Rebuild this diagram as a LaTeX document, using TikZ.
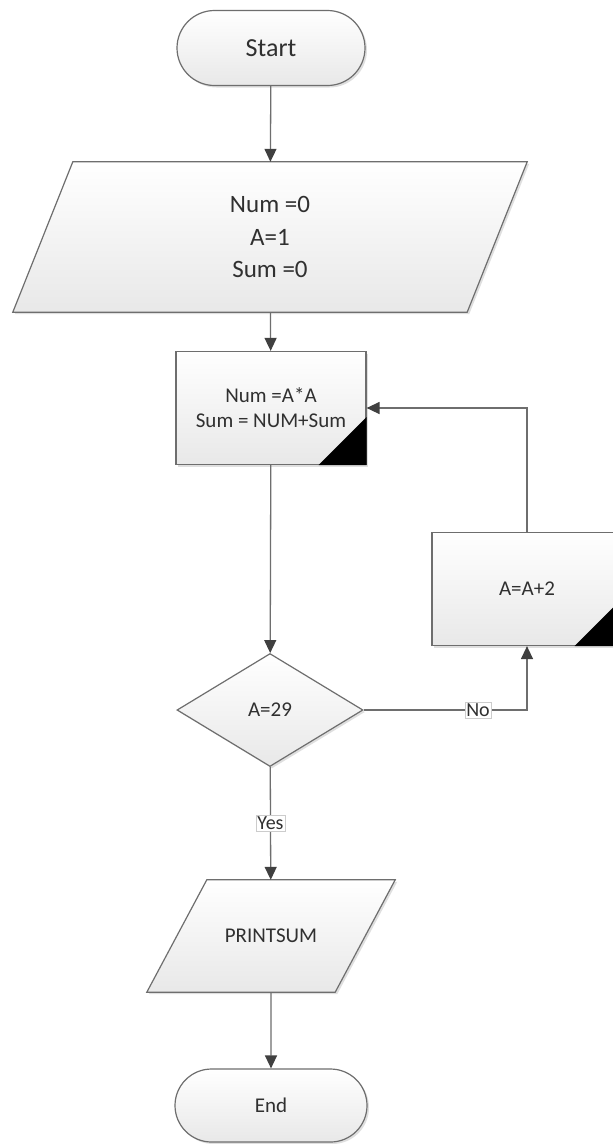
\documentclass[tikz,border=0pt]{standalone}
\usepackage{fontspec}
\setmainfont{Carlito}
\usetikzlibrary{shapes.geometric,shapes.misc,arrows.meta,shadows,calc,backgrounds}
\definecolor{edge}{HTML}{6E6E6E}
\definecolor{tipc}{HTML}{404040}
\definecolor{txt}{HTML}{303030}
\begin{document}
\begin{tikzpicture}[x=1pt,y=-1pt,
  look/.style={draw=edge, line width=1.2pt, top color=white, bottom color=black!9,
    drop shadow={shadow xshift=2pt, shadow yshift=-2pt, opacity=0.25}},
  base/.style={look, text=txt, align=center, inner sep=0pt, font=\fontsize{21}{25}\selectfont},
  terminal/.style={base, rounded rectangle, minimum width=188pt, minimum height=75pt},
  proc/.style={base, rectangle, minimum width=190pt, minimum height=113pt},
  iotext/.style={rectangle, text=txt, align=center, inner sep=0pt, font=\fontsize{21}{25}\selectfont},
  decision/.style={base, diamond, minimum width=186pt, minimum height=113pt},
  arrow/.style={draw=edge, line width=1.3pt, -{Triangle[length=13pt,width=12pt,color=tipc]}},
  lbl/.style={fill=white, draw=black!20, line width=0.4pt, inner sep=1.5pt, text=txt,
    font=\fontsize{20}{24}\selectfont},
  corner/.style={fill=black}
]
\clip (0,0) rectangle (613,1144);

\node[terminal, font=\fontsize{26}{30}\selectfont] (start) at (271,48) {Start};

% input parallelogram (slant 60)
\node[iotext, minimum width=454pt, minimum height=150pt,
  font=\fontsize{25}{32.5}\selectfont] (p1) at (270,237) {Num =0\\A=1\\Sum =0};

\node[proc] (b1) at (271,408) {Num =A*A\\Sum = NUM+Sum};
\fill[corner] (b1.south east) -- ++(-48,0) -- ++(48,-48) -- cycle;
\node[proc] (b2) at (527,589) {A=A+2};
\fill[corner] (b2.south east) -- ++(-48,0) -- ++(48,-48) -- cycle;
\node[decision] (dec) at (270,710) {A=29};

% output parallelogram (slant 60)
\node[iotext, minimum width=188pt, minimum height=112pt] (p2) at (271,936) {PRINTSUM};

\node[terminal, minimum width=192pt, minimum height=73pt] (end) at (271,1105.5) {End};

\begin{scope}[on background layer]
\fill[white] (0,0) rectangle (613,1144);
\path[look] ($(p1.south west)+(-30,0)$) -- ($(p1.south east)+(-30,0)$)
  -- ($(p1.north east)+(30,0)$) -- ($(p1.north west)+(30,0)$) -- cycle;
\path[look] ($(p2.south west)+(-30,0)$) -- ($(p2.south east)+(-30,0)$)
  -- ($(p2.north east)+(30,0)$) -- ($(p2.north west)+(30,0)$) -- cycle;
\end{scope}

\draw[arrow] (start) -- (p1);
\draw[arrow] (p1) -- (b1);
\draw[arrow] (b1) -- (dec);
\draw[arrow] (dec.east) -| node[lbl, pos=0.35] {No} (b2.south);
\draw[arrow] (b2.north) |- (b1.east);
\draw[arrow] (dec) -- node[lbl] {Yes} (p2);
\draw[arrow] (p2) -- (end);
\end{tikzpicture}
\end{document}
